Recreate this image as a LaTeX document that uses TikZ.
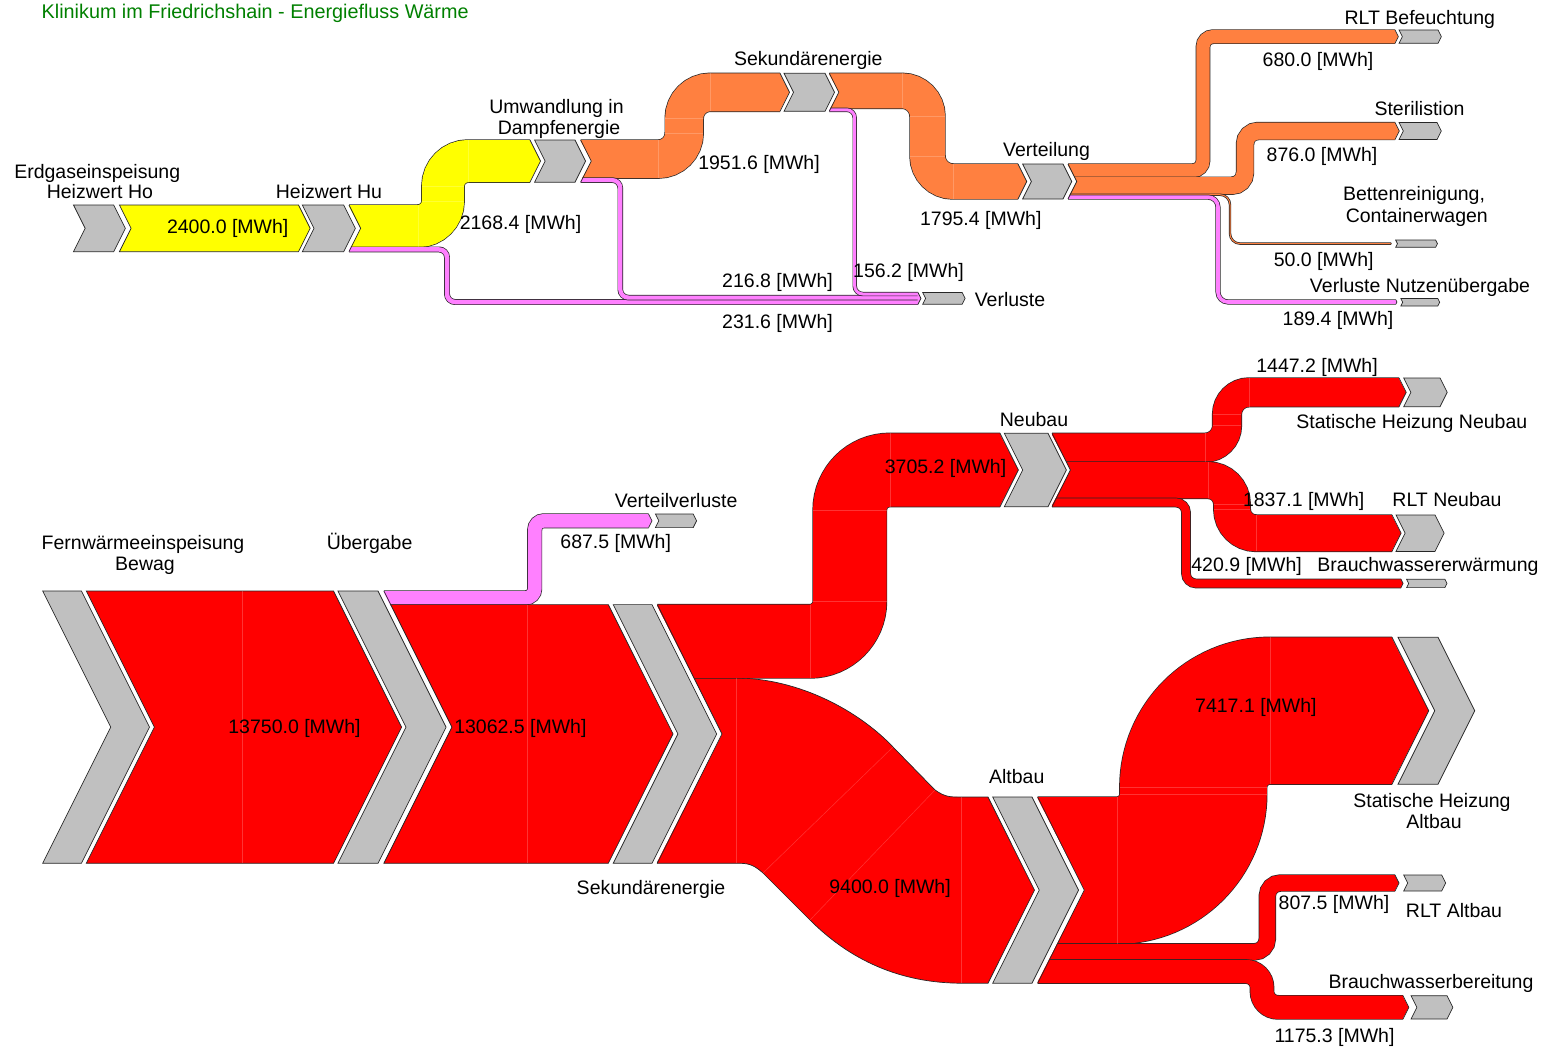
\documentclass[tikz,border=0pt]{standalone}
\usepackage{fontspec}
\setmainfont{Liberation Sans}
\usetikzlibrary{calc}

\definecolor{chevgray}{RGB}{192,192,192}
\definecolor{gasyellow}{RGB}{255,255,0}
\definecolor{steamorange}{RGB}{255,128,64}
\definecolor{losspink}{RGB}{255,128,255}
\definecolor{heatred}{RGB}{255,0,0}
\definecolor{titlegreen}{RGB}{0,128,0}

\tikzset{every picture/.style={/utils/exec={\fontsize{19.5}{21}\selectfont}}}
\tikzset{
  outl/.style={draw=black!85, line width=0.7pt},
  flow/.style 2 args={outl, double=#1, double distance=#2pt},
  seam/.style={draw=white, opacity=0.2, line width=0.5pt},
  lbl/.style={inner sep=0pt, text height=14pt, text depth=0pt},
}

% chevron: [fill] x, y top, y bottom, length of top edge
\newcommand{\chevshape}[5][chevgray]{%
  \filldraw[outl, fill=#1] (#2,#3) -- ({#2+#5},#3) -- ({#2+#5+(#4-#3)/4},{(#3+#4)/2})
    -- ({#2+#5},#4) -- (#2,#4) -- ({#2+(#4-#3)/4},{(#3+#4)/2}) -- cycle;}
% pointed end of a flow: colour, x, y top, y bottom
\newcommand{\flowtip}[4]{%
  \fill[#1] ({#2-0.5},#3) -- ({#2+(#4-#3)/4},{(#3+#4)/2}) -- ({#2-0.5},#4) -- cycle;
  \draw[outl] (#2,#3) -- ({#2+(#4-#3)/4},{(#3+#4)/2}) -- (#2,#4);}
% notched start of the flows behind a chevron: x, y top, y bottom
\newcommand{\notchcut}[3]{%
  \fill[white] ({#1-1.5},{#2-1}) -- ({#1+(#3-#2)/4},{(#2+#3)/2}) -- ({#1-1.5},{#3+1}) -- cycle;
  \draw[outl] (#1,#2) -- ({#1+(#3-#2)/4},{(#2+#3)/2}) -- (#1,#3);}

\begin{document}
\begin{tikzpicture}[x=1pt, y=-1pt]
  \useasboundingbox (0,0) rectangle (1544,1049);

  % steam part
  \draw[flow={gasyellow}{42.2}, rounded corners=25pt] (349,226.1) -- (443,226.1) -- (443,161.1) -- (530,161.1);
  \draw[flow={losspink}{4.5}, rounded corners=8pt] (349,249.45) -- (447,249.45) -- (447,302) -- (918,302);
  \draw[flow={steamorange}{38}, rounded corners=26pt] (580.7,159.1) -- (684.2,159.1) -- (684.2,92.3) -- (780,92.3);
  \draw[flow={losspink}{4.2}, rounded corners=8pt] (580.7,180.1) -- (620.3,180.1) -- (620.3,297.6) -- (918,297.6);
  \draw[flow={steamorange}{35}, rounded corners=25.5pt] (829.3,90.8) -- (927.5,90.8) -- (927.5,181.5) -- (1018,181.5);
  \draw[flow={losspink}{3}, rounded corners=8pt] (829.3,109.8) -- (854.7,109.8) -- (854.7,294) -- (918,294);
  \draw[flow={steamorange}{13.3}, rounded corners=10pt] (1068,170.6) -- (1203,170.6) -- (1203,36.65) -- (1395,36.65);
  \draw[flow={steamorange}{17}, rounded corners=13pt] (1068,185.7) -- (1245,185.7) -- (1245,131) -- (1395,131);
  \draw[flow={steamorange}{1}, rounded corners=10pt] (1068,194.7) -- (1230,194.7) -- (1230,243.6) -- (1391,243.6);
  \draw[flow={losspink}{3.7}, rounded corners=10pt] (1068,197.1) -- (1218,197.1) -- (1218,302) -- (1396,302);

  % district heating part
  \draw[flow={losspink}{13.6}, rounded corners=9pt] (383.9,597.8) -- (534.7,597.8) -- (534.7,520.8) -- (648.6,520.8);
  \filldraw[outl, fill=heatred] (657.3,678) -- (735,678) .. controls (800,678) and (860,712) .. (893,747)
    -- (935,790) .. controls (945,797) and (950,797) .. (960,797) -- (988,797) -- (1034.5,890.1) -- (988,983.2)
    -- (962,983.2) .. controls (900,983.2) and (850,960) .. (810,920) -- (763,873)
    .. controls (755,866) and (750,863.3) .. (740,863.3) -- (657.3,863.3) -- cycle;
  \draw[flow={heatred}{73.4}, rounded corners=40pt] (657.3,641.3) -- (849.8,641.3) -- (849.8,470) -- (1000,470);
  \draw[flow={heatred}{28.7}, rounded corners=22pt] (1052,447.65) -- (1227,447.65) -- (1227,392.35) -- (1399,392.35);
  \draw[flow={heatred}{36.4}, rounded corners=24pt] (1052,480.2) -- (1232,480.2) -- (1232,533.2) -- (1392,533.2);
  \draw[flow={heatred}{8.3}, rounded corners=10pt] (1052,502.55) -- (1186,502.55) -- (1186,583.45) -- (1401,583.45);
  \draw[flow={heatred}{146.9}, rounded corners=76.5pt] (1037.7,870.45) -- (1193.3,870.45) -- (1193.3,710.75) -- (1392,710.75);
  \draw[flow={heatred}{16}, rounded corners=13pt] (1037.7,951.9) -- (1267.3,951.9) -- (1267.3,883) -- (1395,883);
  \draw[flow={heatred}{23.3}, rounded corners=16pt] (1037.7,971.55) -- (1262,971.55) -- (1262,1007.35) -- (1403,1007.35);

  \foreach \x/\a/\b in {349/205/251.7, 580.7/140/182.2, 829.3/73.3/111.3, 1068/164/199,
      383.9/591/863.3, 657.3/604.6/863.3, 1052/433.3/506.7, 1037.7/797/983.2}
    \notchcut{\x}{\a}{\b};

  \chevshape[gasyellow]{119.4}{205}{251.7}{179.1}
  \chevshape[heatred]{86.3}{591}{863.3}{247.2}
  \filldraw[outl, fill=heatred] (390.7,604.6) -- (608.3,604.6) -- (673,733.95) -- (608.3,863.3)
    -- (383.9,863.3) -- (452,727.15) -- cycle;

  % joints between the flow segments
  \foreach \a/\b/\c/\d in {418/205/418/247.2, 421.9/201.1/464.1/201.1, 421.9/186.1/464.1/186.1, 468/140/468/182.2,
      658.2/140.1/658.2/178.1, 665.2/133.1/703.2/133.1, 665.2/118.3/703.2/118.3, 710.2/73.3/710.2/111.3,
      902/73.3/902/108.3, 910/116.3/945/116.3, 910/156/945/156, 953/164/953/199,
      242.4/591/242.4/863.3, 527.4/604.6/527.4/863.3,
      736.7/678/736.7/863.3, 893/747/763/873, 935/790/810/920, 961/797/961/983.2,
      809.8/604.6/809.8/678, 813.1/601.3/886.5/601.3, 813.1/510/886.5/510, 889.8/433.3/889.8/506.7,
      1205/433.3/1205/462, 1212.7/425.7/1241.3/425.7, 1212.7/414.4/1241.3/414.4, 1249/378/1249/406.7,
      1208/462/1208/498.4, 1213.8/504.2/1250.2/504.2, 1213.8/509.2/1250.2/509.2, 1256/515/1256/551.4,
      1116.8/797/1116.8/943.9, 1119.9/794/1266.7/794, 1119.9/787.3/1266.7/787.3, 1269.8/637.3/1269.8/784.2}
    \draw[seam] (\a,\b) -- (\c,\d);

  \foreach \c/\x/\a/\b in {gasyellow/530/140/182.2, steamorange/780/73.3/111.3, steamorange/1018/164/199,
      losspink/918/292.5/304.2, steamorange/1395/30/43.3, steamorange/1395/122.5/139.5,
      steamorange/1391/243.1/244.1, losspink/1396/300.15/303.85, losspink/648.6/514/527.6,
      heatred/1000/433.3/506.7, heatred/1399/378/406.7, heatred/1392/515/551.4, heatred/1401/579.3/587.6,
      heatred/1392/637.3/784.2, heatred/1395/875/891, heatred/1403/995.7/1019}
    \flowtip{\c}{\x}{\a}{\b};

  \foreach \x/\a/\b/\l in {73.5/205/251.7/40.2, 302.3/205/251.7/41.4, 534.6/140/182.2/40.4,
      784/73.3/111.3/41, 1022.6/164/199/40.4, 922.7/292.5/304.2/39.5, 1399/30/43.3/39,
      1399/122.5/139.5/38, 1395.6/240/247.3/40, 1400.8/298.5/306/37,
      42.7/591/863.3/38.7, 337.9/591/863.3/40.1, 613.2/604.6/863.3/38.8, 655.4/514/527.6/37.8,
      1004.3/433.3/506.7/43.7, 992.7/797/983.2/39.3, 1403.7/378/406.7/36.3, 1396/515/551.4/39,
      1406.6/579.3/587.6/38.3, 1398/637.3/784.2/40, 1403.7/875/891/38, 1411/995.7/1019/36}
    \chevshape{\x}{\a}{\b}{\l};

  \foreach \x/\y/\v [count=\i] in {227.7/226/2400.0, 520.5/222.7/2168.4, 759/162.3/1951.6,
      980.8/218.3/1795.4, 777.5/280.7/216.8, 908.5/270/156.2, 777.5/321/231.6, 1318/59.3/680.0,
      1322/154/876.0, 1323.7/259.3/50.0, 1338/318.3/189.4, 294.5/726.7/13750.0, 520.4/726.7/13062.5,
      615.7/541.7/687.5, 945.5/466/3705.2, 1317/365/1447.2, 1303.7/499.3/1837.1, 1246.6/564/420.9,
      890/886.7/9400.0, 1255.9/705/7417.1, 1334/902.7/807.5, 1334.5/1035/1175.3}
    \node[lbl] (mwh\i) at (\x,\y) {\v{} [MWh]};

  \node[lbl, anchor=west, text=titlegreen, font=\fontsize{19.8}{21}\selectfont] (title) at (41.5,11.5)
    {Klinikum im Friedrichshain - Energiefluss Wärme};
  \node[lbl] (erdgas) at (97.2,171.7) {Erdgaseinspeisung};
  \node[lbl] (ho) at (99.9,191) {Heizwert Ho};
  \node[lbl] (hu) at (329,191) {Heizwert Hu};
  \node[lbl] (umw) at (556.5,106) {Umwandlung in};
  \node[lbl] (dampf) at (559,127) {Dampfenergie};
  \node[lbl] (sek) at (808.3,58.3) {Sekundärenergie};
  \node[lbl] (vert) at (1046.5,149) {Verteilung};
  \node[lbl] (verl) at (1010,299.3) {Verluste};
  \node[lbl] (rltbef) at (1419.8,17.3) {RLT Befeuchtung};
  \node[lbl] (steril) at (1419.5,108.3) {Sterilistion};
  \node[lbl] (betten) at (1414,193.3) {Bettenreinigung,};
  \node[lbl] (contw) at (1416.8,215.7) {Containerwagen};
  \node[lbl] (verlnutz) at (1420,285.7) {Verluste Nutzenübergabe};
  \node[lbl] (fern) at (143,542.7) {Fernwärmeeinspeisung};
  \node[lbl] (bewag) at (145,563.3) {Bewag};
  \node[lbl] (uebergabe) at (369.6,542.7) {Übergabe};
  \node[lbl] (verteilverl) at (676.2,500) {Verteilverluste};
  \node[lbl] (sek2) at (651,887) {Sekundärenergie};
  \node[lbl] (neubau) at (1034,419.3) {Neubau};
  \node[lbl] (statneu) at (1411.8,421.7) {Statische Heizung Neubau};
  \node[lbl] (rltneu) at (1447,499.3) {RLT Neubau};
  \node[lbl] (bwneu) at (1428,564) {Brauchwassererwärmung};
  \node[lbl] (altbau) at (1016.7,776.7) {Altbau};
  \node[lbl] (statalt) at (1432,800) {Statische Heizung};
  \node[lbl] (statalt2) at (1434,821.7) {Altbau};
  \node[lbl] (rltalt) at (1454,910.7) {RLT Altbau};
  \node[lbl] (bwalt) at (1431,981.7) {Brauchwasserbereitung};
\end{tikzpicture}
\end{document}
